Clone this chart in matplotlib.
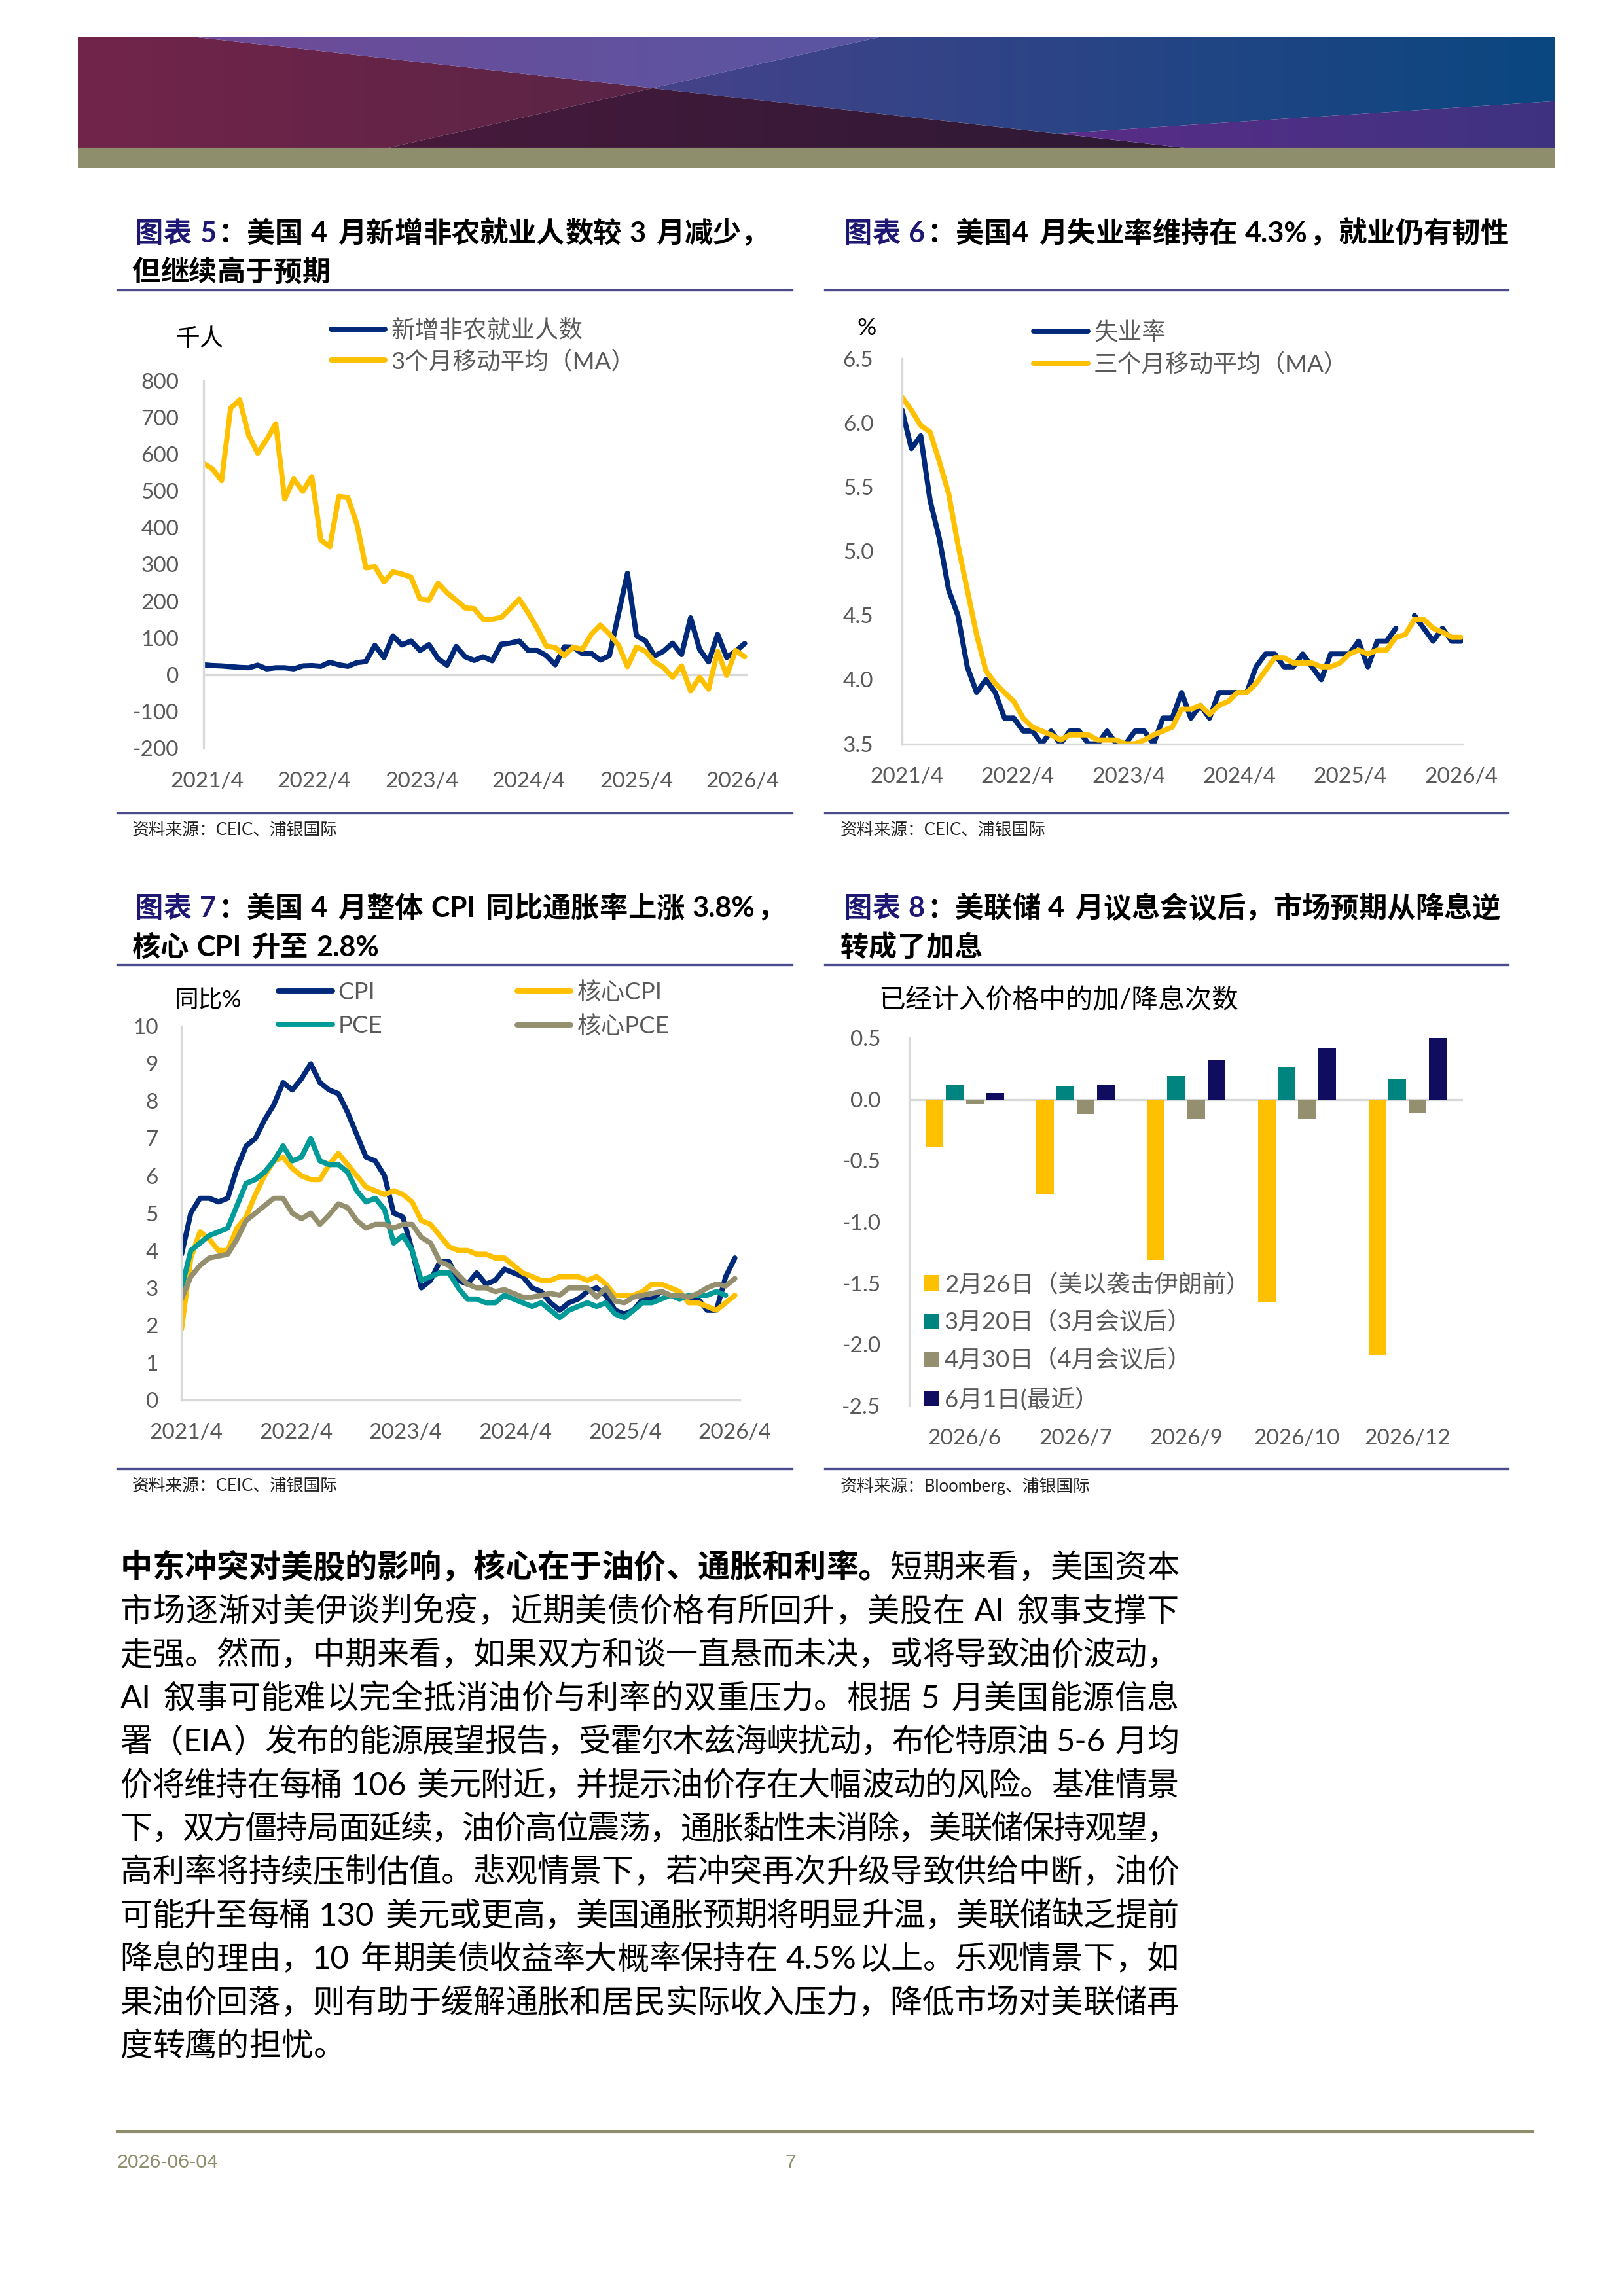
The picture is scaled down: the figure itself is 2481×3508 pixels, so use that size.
import re
import numpy as np
import matplotlib
matplotlib.use('Agg')
import matplotlib.pyplot as plt
from matplotlib.patches import Polygon, Rectangle
from matplotlib.lines import Line2D
from matplotlib.colors import LinearSegmentedColormap
from matplotlib.ticker import FormatStrFormatter

plt.rcParams['font.family'] = ['Lato', 'Noto Sans CJK SC']
plt.rcParams['axes.unicode_minus'] = False

# ---- data -------------------------------------------------------------
year_labels = ['2021/4', '2022/4', '2023/4', '2024/4', '2025/4', '2026/4']

# chart 5: nonfarm payrolls, thousands (2021/4 .. 2026/4)
nfp = [27, 25, 24, 22, 20, 19, 26, 16, 19, 19,
       16, 24, 25, 23, 34, 27, 23, 33, 36, 80,
       47, 106, 81, 92, 66, 82, 44, 26, 77, 49,
       39, 49, 38, 83, 86, 92, 66, 66, 52, 27,
       76, 75, 57, 58, 40, 52, 165, 276, 106, 92,
       51, 64, 86, 55, 155, 69, 35, 110, 47, 64,
       85]
nfp_ma = [575, 560, 528, 725, 748, 652, 603, 640, 683, 478,
          533, 499, 539, 367, 348, 485, 482, 410, 291, 294,
          253, 280, 274, 266, 206, 203, 249, 223, 203, 182,
          180, 151, 151, 156, 180, 206, 168, 126, 78, 74,
          52, 75, 69, 110, 135, 111, 81, 22, 75, 64,
          35, 20, -7, 24, -44, -7, -39, 64, -2, 66,
          49]

# chart 6: unemployment rate, %
unemp = [6.1, 5.8, 5.9, 5.4, 5.1, 4.7, 4.5, 4.1, 3.9, 4.0,
         3.9, 3.7, 3.7, 3.6, 3.6, 3.5, 3.6, 3.5, 3.6, 3.6,
         3.5, 3.5, 3.6, 3.5, 3.5, 3.6, 3.6, 3.5, 3.7, 3.7,
         3.9, 3.7, 3.8, 3.7, 3.9, 3.9, 3.9, 3.9, 4.1, 4.2,
         4.2, 4.1, 4.1, 4.2, 4.1, 4.0, 4.2, 4.2, 4.2, 4.3,
         4.1, 4.3, 4.3, 4.4, np.nan, 4.5, 4.4, 4.3, 4.4, 4.3,
         4.3]
unemp_ma = [6.2, 6.1, 5.98, 5.93, 5.7, 5.45, 5.05, 4.7, 4.35, 4.07,
            3.97, 3.9, 3.83, 3.7, 3.63, 3.6, 3.57, 3.53, 3.57, 3.57,
            3.57, 3.53, 3.53, 3.53, 3.5, 3.5, 3.53, 3.57, 3.6, 3.63,
            3.77, 3.77, 3.8, 3.73, 3.8, 3.83, 3.9, 3.9, 3.97, 4.07,
            4.17, 4.17, 4.13, 4.13, 4.13, 4.1, 4.1, 4.13, 4.2, 4.23,
            4.2, 4.23, 4.23, 4.33, 4.35, 4.47, 4.47, 4.4, 4.37, 4.33,
            4.33]

# chart 7: inflation, % yoy
cpi = [3.9, 5.0, 5.4, 5.4, 5.3, 5.4, 6.2, 6.8, 7.0, 7.5,
       7.9, 8.5, 8.3, 8.6, 9.0, 8.5, 8.3, 8.2, 7.7, 7.1,
       6.5, 6.4, 6.0, 5.0, 4.9, 4.0, 3.0, 3.2, 3.7, 3.7,
       3.2, 3.1, 3.4, 3.1, 3.2, 3.5, 3.4, 3.3, 3.0, 2.9,
       2.6, 2.4, 2.6, 2.7, 2.9, 3.0, 2.8, 2.4, 2.3, 2.4,
       2.7, 2.7, 2.9, 2.8, 2.8, 2.7, 2.7, 2.4, 2.4, 3.3,
       3.8]
core_cpi = [1.9, 3.8, 4.5, 4.3, 4.0, 4.0, 4.6, 4.9, 5.5, 6.0,
            6.4, 6.5, 6.2, 6.0, 5.9, 5.9, 6.3, 6.6, 6.3, 6.0,
            5.7, 5.6, 5.5, 5.6, 5.5, 5.3, 4.8, 4.7, 4.4, 4.1,
            4.0, 4.0, 3.9, 3.9, 3.8, 3.8, 3.6, 3.4, 3.3, 3.2,
            3.2, 3.3, 3.3, 3.3, 3.2, 3.3, 3.1, 2.8, 2.8, 2.8,
            2.9, 3.1, 3.1, 3.0, 2.9, 2.6, 2.6, 2.5, 2.4, 2.6,
            2.8]
pce = [3.0, 4.0, 4.2, 4.4, 4.5, 4.6, 5.2, 5.8, 5.9, 6.1,
       6.4, 6.8, 6.4, 6.5, 7.0, 6.4, 6.3, 6.3, 6.1, 5.6,
       5.3, 5.4, 5.1, 4.2, 4.4, 4.0, 3.2, 3.3, 3.4, 3.4,
       3.0, 2.7, 2.7, 2.6, 2.6, 2.8, 2.7, 2.6, 2.5, 2.6,
       2.4, 2.2, 2.4, 2.5, 2.6, 2.5, 2.6, 2.3, 2.2, 2.4,
       2.6, 2.6, 2.7, 2.8, 2.7, 2.8, 2.8, 2.8, 2.9, 2.8,
       np.nan]
core_pce = [2.7, 3.3, 3.6, 3.8, 3.85, 3.9, 4.3, 4.8, 5.0, 5.2,
            5.4, 5.4, 5.0, 4.85, 5.0, 4.7, 4.95, 5.25, 5.15, 4.8,
            4.6, 4.7, 4.7, 4.6, 4.7, 4.7, 4.35, 4.2, 3.7, 3.6,
            3.35, 3.1, 3.0, 3.0, 2.9, 2.95, 2.85, 2.75, 2.75, 2.8,
            2.85, 2.8, 3.0, 3.0, 3.0, 2.75, 3.0, 2.65, 2.6, 2.75,
            2.8, 2.85, 2.9, 2.8, 2.8, 2.75, 2.85, 3.0, 3.1, 3.05,
            3.25]

# chart 8: priced-in hikes/cuts by meeting
meetings = ['2026/6', '2026/7', '2026/9', '2026/10', '2026/12']
feb26 = [-0.39, -0.77, -1.31, -1.65, -2.09]
mar20 = [0.12, 0.11, 0.19, 0.26, 0.17]
apr30 = [-0.04, -0.12, -0.16, -0.16, -0.11]
jun01 = [0.05, 0.12, 0.32, 0.42, 0.50]
bar_labels = ['2月26日（美以袭击伊朗前）', '3月20日（3月会议后）',
              '4月30日（4月会议后）', '6月1日(最近）']

body_lines = [
    '短期来看，美国资本',
    '市场逐渐对美伊谈判免疫，近期美债价格有所回升，美股在 AI 叙事支撑下',
    '走强。然而，中期来看，如果双方和谈一直悬而未决，或将导致油价波动，',
    'AI 叙事可能难以完全抵消油价与利率的双重压力。根据 5 月美国能源信息',
    '署（EIA）发布的能源展望报告，受霍尔木兹海峡扰动，布伦特原油 5-6 月均',
    '价将维持在每桶 106 美元附近，并提示油价存在大幅波动的风险。基准情景',
    '下，双方僵持局面延续，油价高位震荡，通胀黏性未消除，美联储保持观望，',
    '高利率将持续压制估值。悲观情景下，若冲突再次升级导致供给中断，油价',
    '可能升至每桶 130 美元或更高，美国通胀预期将明显升温，美联储缺乏提前',
    '降息的理由，10 年期美债收益率大概率保持在 4.5%以上。乐观情景下，如',
    '果油价回落，则有助于缓解通胀和居民实际收入压力，降低市场对美联储再',
    '度转鹰的担忧。',
]
body_bold = '中东冲突对美股的影响，核心在于油价、通胀和利率。'

# ---- colours ----------------------------------------------------------
NAVY = '#00297A'
GOLD = '#FFC000'
TEAL = '#009B98'
OLIVE = '#948F6E'
TEAL_BAR = '#008480'
NAVY_BAR = '#100C60'
GRID = '#D9D9D9'
TICK = '#595959'
INDIGO = '#1E1773'
RULE = '#4B4A8A'

W, H = 2481, 3508
fig = plt.figure(figsize=(W / 300, H / 300), dpi=300)
renderer = fig.canvas.get_renderer()

# positions were taken on a 1109x1568 preview of the page
SW, SH = 1109, 1568
def fx(x):
    return x / SW
def fy(y):
    return 1 - y / SH
def box(l, t, r, b):
    return fig.add_axes([fx(l), fy(b), fx(r) - fx(l), fy(t) - fy(b)])


# ---- header banner ----------------------------------------------------
hb = box(53, 25, 1062, 115)
hb.axis('off')
vc = 77 / 90
def P(u, v):
    return (u, v * vc)
regions = [
    ([P(0, 0), P(.077, 0), P(.389, .458), P(.206, 1), P(0, 1)], '#72244A', '#5A2546'),
    ([P(.077, 0), P(.544, 0), P(.389, .458)], '#6E4A98', '#5A56A2'),
    ([P(.544, 0), P(1, 0), P(1, .573), P(.663, .86), P(.389, .458)], '#46428A', '#0A4780'),
    ([P(.389, .458), P(.758, 1), P(.206, 1)], '#48193C', '#2C1A34'),
    ([P(.663, .86), P(1, .573), P(1, 1), P(.758, 1)], '#5A2C88', '#3E3380'),
]
for pts, c0, c1 in regions:
    poly = Polygon(pts, closed=True, facecolor='none', edgecolor='none')
    hb.add_patch(poly)
    us = [p[0] for p in pts]
    cm = LinearSegmentedColormap.from_list('g', [c0, c1])
    im = hb.imshow(np.linspace(0, 1, 256)[None, :], cmap=cm, aspect='auto',
                   extent=(min(us), max(us), vc, 0), interpolation='bilinear')
    im.set_clip_path(poly)
hb.add_patch(Rectangle((0, vc), 1, 1 - vc, color='#8F8E6C'))
hb.set_xlim(0, 1)
hb.set_ylim(1, 0)


# ---- text helpers -----------------------------------------------------
TOKEN = re.compile(r'[!-~]+| +|[^\x00-\x7f]')

def measure(s, size, weight):
    t = fig.text(0, 0, s, fontsize=size, fontweight=weight)
    w = t.get_window_extent(renderer).width
    t.remove()
    return w

def draw_runs(x, yc, runs, size, width=None):
    toks = []
    for s, c, w in runs:
        for t in TOKEN.findall(s):
            toks.append((t, c, w))
    em = size * 300 / 72
    ws = []
    for t, c, w in toks:
        if t.strip() == '':
            ws.append(len(t) * 0.28 * em)
        elif ord(t[0]) > 127:
            ws.append(em)
        else:
            ws.append(measure(t, size, w) + 0.08 * em)
    gap = 0
    if width is not None and len(toks) > 1:
        gap = (width * W / SW - sum(ws)) / (len(toks) - 1)
    xp = x * W / SW
    yb = fy(yc) - 0.38 * em / H
    for (t, c, w), tw in zip(toks, ws):
        if t.strip():
            fig.text(xp / W, yb, t, fontsize=size, fontweight=w, color=c,
                     ha='left', va='baseline')
        xp += tw + gap

def rule(x0, x1, y, color=RULE, lw=0.8):
    fig.add_artist(Line2D([fx(x0), fx(x1)], [fy(y), fy(y)], color=color, lw=lw))

def title(x, y, num, rest, line2=None):
    draw_runs(x, y, [('图表 ' + num, INDIGO, 'bold'), (rest, 'black', 'bold')], 10.4)
    if line2:
        draw_runs(x - 2, y + 26.5, [(line2, 'black', 'bold')], 10.4)

def source(x, y, s):
    fig.text(fx(x), fy(y), s, fontsize=6.2, color='#222222', ha='left', va='center')


def style(ax, ypad, bottom=False):
    for s in ['top', 'right']:
        ax.spines[s].set_visible(False)
    ax.spines['left'].set_color(GRID)
    ax.spines['left'].set_linewidth(0.8)
    ax.spines['bottom'].set_visible(bottom)
    ax.spines['bottom'].set_color(GRID)
    ax.spines['bottom'].set_linewidth(0.8)
    ax.tick_params(length=0, labelsize=8, labelcolor=TICK)
    ax.tick_params(axis='y', pad=ypad)
    ax.tick_params(axis='x', pad=8.5)
    ax.set_facecolor('none')

LEG = dict(frameon=False, borderpad=0, borderaxespad=0, handlelength=2.25,
           handletextpad=0.25, fontsize=8.8, labelcolor=TICK,
           bbox_transform=fig.transFigure, loc='upper left')
LW = dict(lw=1.9, solid_capstyle='round', solid_joinstyle='round')


# ---- chart 5 ----------------------------------------------------------
title(92, 158, '5', '：美国 4 月新增非农就业人数较 3 月减少，', '但继续高于预期')
rule(80, 541, 198)
ax5 = box(139, 260, 511, 511)
m = np.arange(len(nfp))
l1, = ax5.plot(m, nfp, color=NAVY, **LW)
l2, = ax5.plot(m, nfp_ma, color=GOLD, **LW)
ax5.axhline(0, color=GRID, lw=0.8, zorder=0)
ax5.set_xlim(0, 60.4)
ax5.set_ylim(-200, 800)
ax5.set_yticks(np.arange(-200, 801, 100))
ax5.set_xticks([0.4, 12.25, 24.2, 36.0, 48.0, 59.8], year_labels)
style(ax5, 9)
ax5.legend([l1, l2], ['新增非农就业人数', '3个月移动平均（MA）'],
           bbox_to_anchor=(fx(226), fy(218)), labelspacing=0.34, **LEG)
fig.text(fx(136), fy(231), '千人', fontsize=8.8, ha='center', va='center')
rule(80, 541, 555)
source(90, 567, '资料来源：CEIC、浦银国际')


# ---- chart 6 ----------------------------------------------------------
title(576, 158, '6', '：美国4 月失业率维持在 4.3%，就业仍有韧性')
rule(563, 1030, 198)
ax6 = box(616, 245, 999, 508)
m = np.arange(len(unemp))
l1, = ax6.plot(m, unemp, color=NAVY, **LW)
l2, = ax6.plot(m, unemp_ma, color=GOLD, **LW)
ax6.set_xlim(0, 60.2)
ax6.set_ylim(3.5, 6.5)
ax6.set_yticks(np.arange(3.5, 6.51, 0.5))
ax6.yaxis.set_major_formatter(FormatStrFormatter('%.1f'))
ax6.set_xticks([0.5, 12.4, 24.3, 36.2, 48.1, 60], year_labels)
style(ax6, 10.5, bottom=True)
ax6.legend([l1, l2], ['失业率', '三个月移动平均（MA）'],
           bbox_to_anchor=(fx(706), fy(219)), labelspacing=0.4, **LEG)
fig.text(fx(592), fy(224), '%', fontsize=8.8, ha='center', va='center')
rule(563, 1030, 555)
source(574, 567, '资料来源：CEIC、浦银国际')


# ---- chart 7 ----------------------------------------------------------
title(92, 619, '7', '：美国 4 月整体 CPI 同比通胀率上涨 3.8%，', '核心 CPI 升至 2.8%')
rule(80, 541, 659)
ax7 = box(124, 701, 505, 956)
m = np.arange(len(cpi))
c1, = ax7.plot(m, cpi, color=NAVY, **LW)
c2, = ax7.plot(m, core_cpi, color=GOLD, **LW)
c3, = ax7.plot(m, pce, color=TEAL, **LW)
c4, = ax7.plot(m, core_pce, color=OLIVE, **LW)
ax7.set_xlim(0, 60.5)
ax7.set_ylim(0, 10)
ax7.set_yticks(np.arange(0, 11, 1))
ax7.set_xticks([0.5, 12.4, 24.3, 36.2, 48.1, 60], year_labels)
style(ax7, 8.5, bottom=True)
ax7.legend([c1, c3, c2, c4], ['CPI', 'PCE', '核心CPI', '核心PCE'], ncol=2,
           columnspacing=5.6, bbox_to_anchor=(fx(190), fy(670)),
           labelspacing=0.5, **LEG)
fig.text(fx(142), fy(683), '同比%', fontsize=8.8, ha='center', va='center')
rule(80, 541, 1003)
source(90, 1015, '资料来源：CEIC、浦银国际')


# ---- chart 8 ----------------------------------------------------------
title(576, 619, '8', '：美联储 4 月议息会议后，市场预期从降息逆', '转成了加息')
rule(563, 1030, 659)
ax8 = box(621, 709, 999, 960)
xc = np.arange(len(meetings))
series = [(feb26, GOLD), (mar20, TEAL_BAR), (apr30, OLIVE), (jun01, NAVY_BAR)]
bars = []
for i, (vals, col) in enumerate(series):
    bars.append(ax8.bar(xc + (i - 1.5) * 0.182, vals, width=0.16, color=col, zorder=2))
ax8.axhline(0, color=GRID, lw=0.8, zorder=1)
ax8.set_xlim(-0.5, 4.5)
ax8.set_ylim(-2.5, 0.5)
ax8.set_yticks(np.arange(-2.5, 0.51, 0.5))
ax8.yaxis.set_major_formatter(FormatStrFormatter('%.1f'))
ax8.set_xticks(xc, meetings)
style(ax8, 10.5)
leg8 = dict(LEG)
leg8.update(handlelength=0.6, handleheight=0.6)
ax8.legend(bars, bar_labels, bbox_to_anchor=(fx(631), fy(869)),
           labelspacing=0.63, **leg8)
fig.text(fx(600), fy(683), '已经计入价格中的加/降息次数', fontsize=9.8,
         ha='left', va='center')
rule(563, 1030, 1003)
source(574, 1015, '资料来源：Bloomberg、浦银国际')


# ---- body text --------------------------------------------------------
for i, line in enumerate(body_lines):
    y = 1069 + 29.7 * i
    runs = [(line, 'black', 'normal')]
    if i == 0:
        runs = [(body_bold, 'black', 'bold')] + runs
    last = i == len(body_lines) - 1
    draw_runs(82, y, runs, 11.8, None if last else 805 - 82)


# ---- footer -----------------------------------------------------------
rule(80, 1047, 1456, color='#8F8E6C', lw=1.0)
fig.text(fx(80), fy(1477), '2026-06-04', fontsize=7.3, color='#8F8E6C',
         family='Liberation Sans', ha='left', va='center')
fig.text(fx(540), fy(1477), '7', fontsize=7.3, color='#8F8E6C',
         family='Liberation Sans', ha='center', va='center')

fig.savefig('out.png', dpi=300, facecolor='white')
